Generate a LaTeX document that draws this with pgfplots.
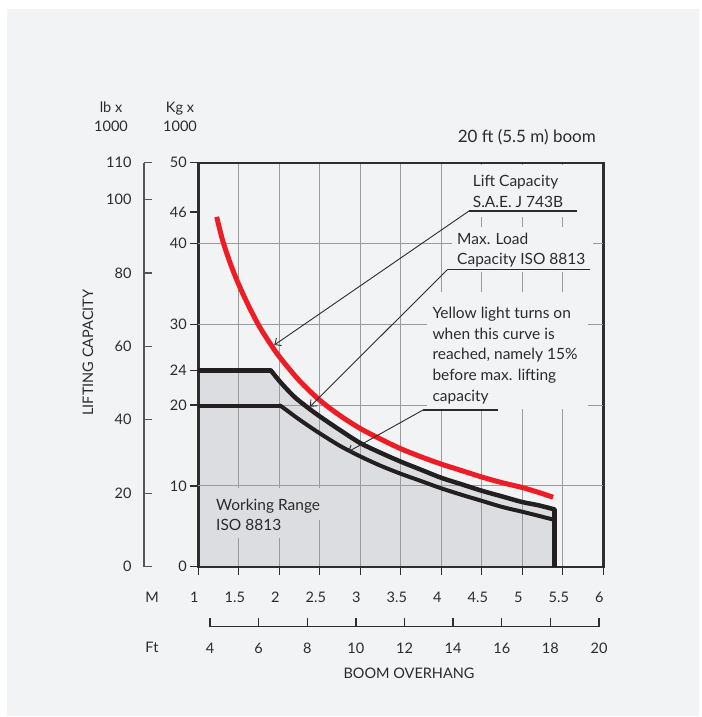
\documentclass[border=0pt]{standalone}
\usepackage{fontspec}
\setmainfont{Lato}
\usepackage{pgfplots}
\usepackage{pgfplotstable}
\pgfplotsset{compat=1.18}
\usetikzlibrary{arrows.meta}

\definecolor{panel}{HTML}{F2F3F5}
\definecolor{fillg}{HTML}{DCDDE0}
\definecolor{gridc}{HTML}{9B9B9B}
\definecolor{redc}{HTML}{EE1D25}
\definecolor{blk}{HTML}{231F20}
\definecolor{framec}{HTML}{2E2E2E}
\definecolor{textc}{HTML}{2B2B2B}
\definecolor{lbc}{HTML}{555555}

\newcommand\fa{\fontsize{15.5}{19}\selectfont}
\newcommand\ft{\fontsize{14.5}{17}\selectfont}
\newcommand\fti{\fontsize{17}{20}\selectfont}

% capacity curves, x = boom overhang (m), y = kg x 1000
\pgfplotstableread{
x y
1.895 24.3
2.0   23.0
2.1   21.9
2.2   20.9
2.35  19.7
2.5   18.6
2.75  16.9
3.0   15.3
3.25  14.1
3.5   13.0
3.75  12.0
4.0   11.0
4.25  10.2
4.5   9.4
4.75  8.7
5.0   8.0
5.2   7.6
5.395 7.1
}\outercurve
\pgfplotstableread{
x y
2.01  19.95
2.1   19.3
2.2   18.55
2.35  17.5
2.5   16.5
2.75  14.95
3.0   13.65
3.25  12.5
3.5   11.5
3.75  10.6
4.0   9.7
4.25  8.9
4.5   8.15
4.75  7.4
5.0   6.8
5.2   6.3
5.395 5.8
}\innercurve
\pgfplotstableread{
x y
1.227 43.3
1.3   40.4
1.4   37.4
1.5   34.9
1.625 32.2
1.75  29.8
1.875 27.8
2.0   26.0
2.25  23.0
2.5   20.6
2.75  18.7
3.0   17.1
3.25  15.8
3.5   14.6
3.75  13.6
4.0   12.7
4.25  11.9
4.5   11.1
4.75  10.4
5.0   9.8
5.2   9.2
5.38  8.6
}\saecurve

\begin{document}
\begin{tikzpicture}
\fill[white] (0,0) rectangle (701pt,-717pt);
\fill[panel] (7pt,-9pt) rectangle (699pt,-716pt);

% working range fill (below grid)
\begin{axis}[at={(198.3pt,-566.7pt)}, anchor=south west, scale only axis,
  width=405pt, height=404pt, xmin=1, xmax=6, ymin=0, ymax=50,
  hide axis, clip=false]
\addplot[draw=none, fill=fillg] coordinates {(1,24.3) (1.91,24.3)} \closedcycle;
\addplot[draw=none, fill=fillg, smooth] table {\outercurve} \closedcycle;
\end{axis}

% main axis
\begin{axis}[at={(198.3pt,-566.7pt)}, anchor=south west, scale only axis,
  width=405pt, height=404pt, xmin=1, xmax=6, ymin=0, ymax=50, clip=false,
  axis line style={line width=2.4pt, draw=framec},
  xtick={1,1.5,2,2.5,3,3.5,4,4.5,5,5.5,6},
  xticklabels={1,1.5,2,2.5,3,3.5,4,4.5,5,5.5,6},
  ytick={0,10,20,24.3,30,40,43.9,50},
  yticklabels={0,10,20,24,30,40,46,50},
  xmajorgrids, grid style={line width=1pt, draw=gridc},
  extra y ticks={10,20,30,40}, extra y tick labels={},
  extra y tick style={grid=major, major tick length=0pt},
  tick align=outside, xtick pos=bottom, ytick pos=left,
  major tick length=8pt,
  tick style={line width=1.3pt, draw=framec},
  tick label style={font=\ft, text=textc},
  xticklabel style={xshift=-4pt, yshift=-14pt},
  /pgf/number format/assume math mode=true]
\addplot[smooth, line width=5pt, draw=redc] table {\saecurve};
\addplot[line width=4.5pt, draw=blk] coordinates {(1,24.3) (1.895,24.3)};
\addplot[smooth, line width=4.5pt, draw=blk, line cap=round] table {\outercurve};
\addplot[line width=4.5pt, draw=blk] coordinates {(5.395,7.1) (5.395,0)};
\addplot[line width=4pt, draw=blk] coordinates {(1,19.95) (2.01,19.95)};
\addplot[smooth, line width=4pt, draw=blk, line cap=round] table {\innercurve};
\end{axis}

% lb x 1000 scale
\begin{axis}[at={(144pt,-566.7pt)}, anchor=south west, scale only axis,
  width=10pt, height=404pt, xmin=0, xmax=1, ymin=0, ymax=110,
  axis x line=none, axis y line=left,
  axis line style={-, line width=1.5pt, draw=lbc},
  ytick={0,20,40,60,80,100,110},
  tick align=inside, major tick length=8pt,
  tick style={line width=1.3pt, draw=lbc},
  tick label style={font=\ft, text=textc},
  yticklabel style={xshift=-9pt},
  /pgf/number format/assume math mode=true]
\end{axis}

% ft scale
\begin{axis}[at={(210pt,-626.7pt)}, anchor=south west, scale only axis,
  width=389pt, height=10pt, xmin=4, xmax=20, ymin=0, ymax=1,
  axis y line=none, axis x line=bottom,
  axis line style={-, line width=1.3pt, draw=framec},
  xtick={4,6,8,10,12,14,16,18,20},
  tick align=inside, major tick length=8.5pt,
  tick style={line width=1.3pt, draw=framec},
  tick label style={font=\ft, text=textc},
  xticklabel style={yshift=-13pt},
  /pgf/number format/assume math mode=true]
\end{axis}

\begin{scope}[x=1pt, y=-1pt, text=textc]
% backgrounds behind texts
\fill[panel] (455,164.5) rectangle (601,217);
\fill[panel] (452,227) rectangle (593,272);
\fill[panel] (427,292) rectangle (588,409);
\fill[fillg] (208,488) rectangle (330,520);
\fill[fillg] (208,520) rectangle (291,538);

\node[anchor=base, font=\ft] at (111,112) {lb x};
\node[anchor=base, font=\ft] at (111,131.7) {1000};
\node[anchor=base, font=\ft] at (180,112) {Kg x};
\node[anchor=base, font=\ft] at (180,131.7) {1000};
\node[anchor=base east, font=\fti, inner sep=0] at (596,142.7) {20 ft (5.5 m) boom};
\node[rotate=90, font=\ft] at (88,352.5) {LIFTING CAPACITY};
\node[font=\ft] at (152,597) {M};
\node[font=\ft] at (152,647) {Ft};
\node[font=\ft] at (409,673) {BOOM OVERHANG};

\node[anchor=base west, font=\fa, inner sep=0] at (216,510.5) {Working Range};
\node[anchor=base west, font=\fa, inner sep=0] at (216,530) {ISO 8813};

\node[anchor=base west, font=\fa, inner sep=0] at (472.7,186.7) {Lift Capacity};
\node[anchor=base west, font=\fa, inner sep=0] at (472.7,207) {S.A.E. J 743B};
\node[anchor=base west, font=\fa, inner sep=0] at (457,244) {Max. Load};
\node[anchor=base west, font=\fa, inner sep=0] at (457,264.3) {Capacity ISO 8813};
\node[anchor=base west, font=\fa, inner sep=0] at (432.3,318.3) {Yellow light turns on};
\node[anchor=base west, font=\fa, inner sep=0] at (432.3,339) {when this curve is};
\node[anchor=base west, font=\fa, inner sep=0] at (432.3,359.7) {reached, namely 15\%};
\node[anchor=base west, font=\fa, inner sep=0] at (432.3,380.3) {before max. lifting};
\node[anchor=base west, font=\fa, inner sep=0] at (432.3,401) {capacity};

\draw[line width=1.2pt, draw=textc] (469,211) -- (577,211);
\draw[line width=1.2pt, draw=textc] (447.7,269.3) -- (590,269.3);
\draw[line width=1.2pt, draw=textc] (423,410) -- (498,410);
\draw[line width=0.9pt, draw=textc, -{Straight Barb[length=5pt,width=9pt]}] (469,211) -- (274.3,345);
\draw[line width=0.9pt, draw=textc, -{Straight Barb[length=5pt,width=9pt]}] (447.7,269.3) -- (310,406.7);
\draw[line width=0.9pt, draw=textc, -{Straight Barb[length=5pt,width=9pt]}] (423,410) -- (348.3,451.7);
\end{scope}
\pgfresetboundingbox
\useasboundingbox (0,0) rectangle (701pt,-717pt);
\end{tikzpicture}
\end{document}
